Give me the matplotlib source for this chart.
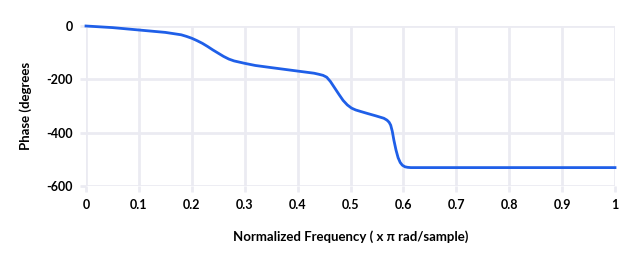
import matplotlib.pyplot as plt

plt.rcParams['font.family'] = ['Lato', 'DejaVu Sans']
plt.rcParams['axes.unicode_minus'] = False

# valores
freq = [0, 0.05, 0.1, 0.15, 0.18, 0.19, 0.2, 0.21, 0.22, 0.23, 0.24, 0.25, 0.26, 0.27,
        0.28, 0.3, 0.32, 0.35, 0.4, 0.431, 0.44, 0.448, 0.455, 0.462, 0.47, 0.478,
        0.486, 0.494, 0.502, 0.51, 0.52, 0.532, 0.548, 0.563, 0.569, 0.573, 0.576,
        0.579, 0.582, 0.586, 0.59, 0.594, 0.598, 0.603, 0.608, 0.614, 0.7, 0.8, 0.9, 1.0]
phase = [0, -6, -15, -24, -33, -39, -46, -55, -65, -77, -90, -102, -114, -124,
         -131, -140, -148, -156, -169, -177, -181, -185, -192, -208, -232, -256,
         -279, -296, -308, -315, -321, -328, -337, -346, -353, -361, -372,
         -395, -428, -465, -494, -512, -522, -528, -530, -531, -531, -531, -531, -531]
xticks = [0, 0.1, 0.2, 0.3, 0.4, 0.5, 0.6, 0.7, 0.8, 0.9, 1]
xtick_labels = ['0', '0.1', '0.2', '0.3', '0.4', '0.5', '0.6', '0.7', '0.8', '0.9', '1']
yticks = [0, -200, -400, -600]

grid_c = '#ebebf2'

fig = plt.figure(figsize=(6.44, 2.65), dpi=100)
ax = fig.add_axes([86/644, 1-186/265, 529/644, 160/265])
ax.plot(freq, phase, color='#1f5fe8', lw=2, clip_on=False, zorder=3,
        solid_joinstyle='round')
ax.set_xlim(0, 1)
ax.set_ylim(-600, 0)
ax.set_xticks(xticks)
ax.set_xticklabels(xtick_labels)
ax.set_yticks(yticks)
ax.grid(color=grid_c, lw=2)
for s in ax.spines.values():
    s.set_visible(False)
ax.tick_params(color=grid_c, width=2, length=4.5, labelsize=9, pad=5)
for lab in ax.get_xticklabels() + ax.get_yticklabels():
    lab.set_fontweight('bold')
ax.set_xlabel('Normalized Frequency ( x π rad/sample)', fontsize=9.5, fontweight='bold', labelpad=14)
ax.set_ylabel('Phase (degrees', fontsize=9.5, fontweight='bold', labelpad=10)

fig.savefig('out.png', dpi=100)
